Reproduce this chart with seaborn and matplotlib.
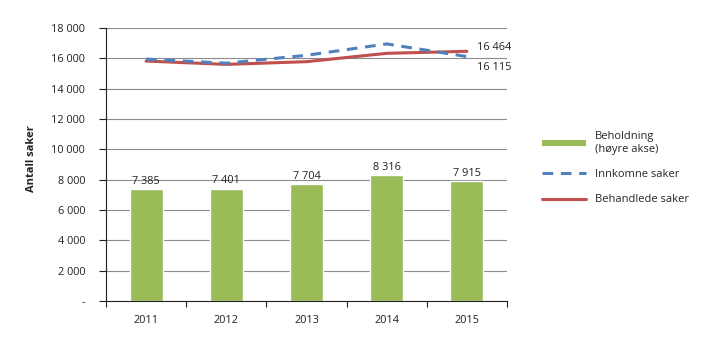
import matplotlib
matplotlib.use("Agg")
import matplotlib.pyplot as plt
import seaborn as sns
import pandas as pd
import numpy as np
from matplotlib.patches import Patch
from matplotlib.lines import Line2D

years = ["2011", "2012", "2013", "2014", "2015"]
beholdning = [7385, 7401, 7704, 8316, 7915]
innkomne = [15950, 15680, 16200, 16950, 16115]
behandlede = [15820, 15600, 15780, 16330, 16464]
yticks = [0, 2000, 4000, 6000, 8000, 10000, 12000, 14000, 16000, 18000]

def fmt(v):
    return "-" if v == 0 else f"{v:,}".replace(",", " ")

sns.set_theme(style="white")
plt.rcParams["font.family"] = ["Open Sans", "DejaVu Sans"]
FS = 7.8

fig = plt.figure(figsize=(7.2, 3.41), dpi=100)
ax = fig.add_axes([106/720, 1-301/341, (507-106)/720, (301-28)/341])

df = pd.DataFrame({"year": years, "Beholdning": beholdning,
                   "Innkomne": innkomne, "Behandlede": behandlede})
df["x"] = np.arange(len(years))

sns.barplot(data=df, x="year", y="Beholdning", color="#9BBB59", width=0.41,
            saturation=1, ax=ax, zorder=2)
sns.lineplot(x=df["x"], y=df["Behandlede"], color="#C0504D", lw=2.2, ax=ax, zorder=3)
sns.lineplot(x=df["x"], y=df["Innkomne"], color="#4F81BD", lw=2.2, ax=ax, zorder=4,
             dashes=False, linestyle=(0, (3.5, 2.5)))

for i, v in enumerate(beholdning):
    ax.text(i, v + 150, fmt(v), ha="center", va="bottom", fontsize=FS, color="#222222")

ax.text(4.12, behandlede[-1] + 250, fmt(behandlede[-1]), ha="left", va="center", fontsize=FS, color="#222222")
ax.text(4.12, innkomne[-1] - 750, fmt(innkomne[-1]), ha="left", va="center", fontsize=FS, color="#222222")

ax.set_xlim(-0.5, 4.5)
ax.set_ylim(0, 18000)
ax.set_yticks(yticks)
ax.set_yticklabels([fmt(v) for v in yticks], fontsize=FS, color="#222222")
ax.set_xticks(np.arange(len(years)))
ax.set_xticklabels(years, fontsize=FS, color="#222222")
ax.set_xlabel("")
ax.set_ylabel("Antall saker", fontsize=8, fontweight="bold", color="#222222")
ax.yaxis.set_label_coords(-0.172, 0.52)
ax.yaxis.grid(True, color="#8c8c8c", lw=0.8)
ax.set_axisbelow(True)
for s in ["top", "right"]:
    ax.spines[s].set_visible(False)
ax.spines["left"].set_color("#222222")
ax.spines["bottom"].set_color("#222222")
ax.spines["left"].set_linewidth(0.8)
ax.spines["bottom"].set_linewidth(0.8)
ax.tick_params(axis="y", which="major", left=True, length=5, width=0.8, color="#222222", pad=10)
ax.tick_params(axis="x", which="major", bottom=False, pad=4)
ax.set_xticks(np.arange(-0.5, 5.0, 1.0), minor=True)
ax.tick_params(axis="x", which="minor", bottom=True, length=4, width=0.8, color="#222222", direction="out")

handles = [Patch(facecolor="#9BBB59", edgecolor="none"),
           Line2D([], [], color="#4F81BD", lw=2.2, linestyle=(0, (3.5, 2.5))),
           Line2D([], [], color="#C0504D", lw=2.2)]
labels = ["Beholdning\n(høyre akse)", "Innkomne saker", "Behandlede saker"]
fig.legend(handles, labels, loc="upper left", bbox_to_anchor=(532/720, 1-121/341),
           frameon=False, fontsize=8, handlelength=4.0, handleheight=0.5,
           labelspacing=1.3, handletextpad=0.8)

fig.savefig("out.png", dpi=100)
